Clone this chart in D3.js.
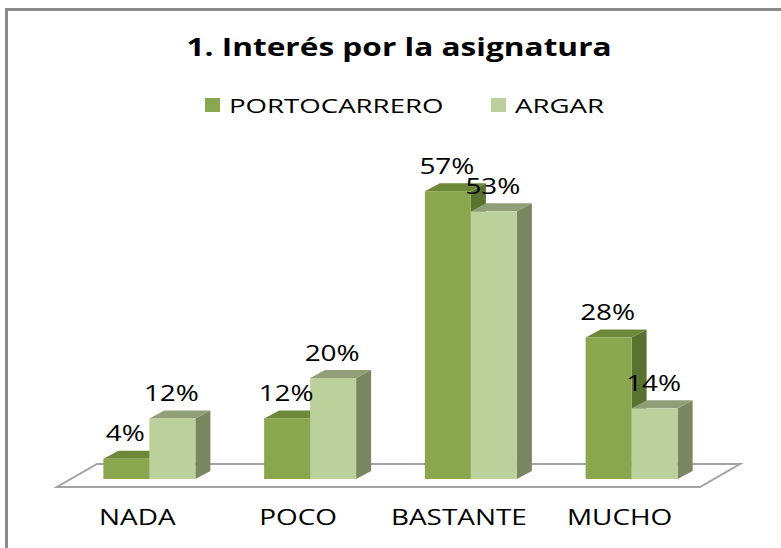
<!DOCTYPE html>
<html><head><meta charset="utf-8">
<script src="https://cdn.jsdelivr.net/npm/d3@7"></script>
<style>body{margin:0;background:#fff}svg{display:block}</style>
</head><body>
<svg id="c" width="781" height="548"></svg>
<script>
const title = "1. Interés por la asignatura";
const categories = ["NADA", "POCO", "BASTANTE", "MUCHO"];
const seriesNames = ["PORTOCARRERO", "ARGAR"];
const portocarrero = [4, 12, 57, 28];
const argar = [12, 20, 53, 14];

const colors = {
  PORTOCARRERO: {front: "#8aa64f", top: "#6c8838", side: "#5a7230", legend: "#8aa64f"},
  ARGAR: {front: "#bbd09a", top: "#919f78", side: "#798660", legend: "#bbd09a"}
};
const FONT = "'Open Sans', sans-serif";
const SX = 1.33;

const svg = d3.select("#c");
const W = 781, H = 548;

// frame
svg.append("path").attr("d", `M6.5,${H} V9.5 H${W}`).attr("fill", "none")
  .attr("stroke", "#8a8a8a").attr("stroke-width", 3);

// scales
const floorFront = [57, 700];
const depth = {dx: 40, dy: -23};
const x0 = d3.scaleBand().domain(categories).range(floorFront);
const barW = 46;
const x1 = d3.scaleBand().domain(seriesNames).range([0, barW * 2]);
const y = d3.scaleLinear().domain([0, 60]).range([479, 479 - 60 * 5.05]);
const off = {dx: 12}; // bars sit slightly back on the floor
const bd = {dx: 15, dy: -8}; // bar depth

// floor
const fy = 487;
svg.append("polygon")
  .attr("points", [[floorFront[0], fy], [floorFront[1], fy], [floorFront[1] + depth.dx, fy + depth.dy], [floorFront[0] + depth.dx, fy + depth.dy]].map(p => p.join(",")).join(" "))
  .attr("fill", "#fff").attr("stroke", "#a3a3a3").attr("stroke-width", 2);

const data = [];
categories.forEach((c, i) => {
  data.push({cat: c, s: "PORTOCARRERO", v: portocarrero[i]});
  data.push({cat: c, s: "ARGAR", v: argar[i]});
});

const gx = d => x0(d.cat) + (x0.bandwidth() - barW * 2) / 2 + off.dx + x1(d.s);
const bars = svg.append("g");
data.forEach(d => {
  const xl = gx(d), xr = xl + barW, yt = y(d.v), yb = y(0);
  const g = bars.append("g");
  // side
  g.append("polygon").attr("points", [[xr, yt], [xr + bd.dx, yt + bd.dy], [xr + bd.dx, yb + bd.dy], [xr, yb]].map(p => p.join(",")).join(" "))
    .attr("fill", colors[d.s].side);
  // top
  g.append("polygon").attr("points", [[xl, yt], [xr, yt], [xr + bd.dx, yt + bd.dy], [xl + bd.dx, yt + bd.dy]].map(p => p.join(",")).join(" "))
    .attr("fill", colors[d.s].top);
  // front
  g.append("rect").attr("x", xl).attr("y", yt).attr("width", barW).attr("height", yb - yt)
    .attr("fill", colors[d.s].front);
});

function stretchedText(parent, txt, x, yy, size, opts = {}) {
  return parent.append("text")
    .attr("transform", `translate(${x},${yy}) scale(${opts.sx || SX},1)`)
    .attr("text-anchor", opts.anchor || "middle")
    .attr("font-family", FONT).attr("font-size", size)
    .attr("font-weight", opts.weight || "normal")
    .attr("fill", "#000").text(txt);
}

// value labels
const labels = svg.append("g");
data.forEach(d => {
  stretchedText(labels, d.v + "%", gx(d) + barW / 2 - 1, y(d.v) - 17.5, 21);
});

// category labels
const cl = svg.append("g");
categories.forEach(c => {
  stretchedText(cl, c, x0(c) + x0.bandwidth() / 2, 525, 21);
});

// title
stretchedText(svg, title, 399, 56, 25.5, {weight: "bold", sx: 1.24});

// legend
const lg = svg.append("g");
const legendX = {PORTOCARRERO: 205, ARGAR: 491};
seriesNames.forEach(s => {
  lg.append("rect").attr("x", legendX[s]).attr("y", 98).attr("width", 15).attr("height", 14)
    .attr("fill", colors[s].legend);
  stretchedText(lg, s, legendX[s] + 24, 113, 20, {anchor: "start", sx: 1.38});
});
</script>
</body></html>
